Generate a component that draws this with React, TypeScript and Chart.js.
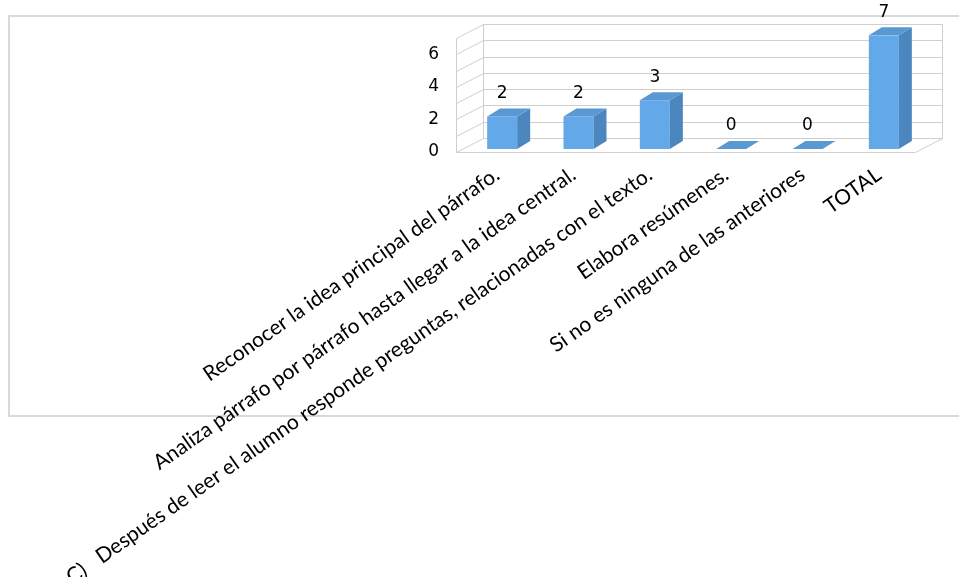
import React, { useEffect, useRef } from 'react';
import { Chart, registerables } from 'chart.js';

Chart.register(...registerables);

const categories = [
  'Reconocer la idea principal del párrafo.',
  'Analiza párrafo por párrafo hasta llegar a la idea central.',
  'C)   Después de leer el alumno responde preguntas, relacionadas con el texto.',
  'Elabora resúmenes.',
  'Si no es ninguna de las anteriores',
  'TOTAL',
];
const values = [2, 2, 3, 0, 0, 7];
const yTickLabels = [0, 2, 4, 6];
const yMax = 7;

const FRONT = '#63A8E8';
const SIDE = '#4B86BE';
const TOP = '#5A98D2';
const GRID = '#CFCFCF';

const threeD = {
  id: 'threeD',
  beforeDraw(chart: any) {
    const ctx = chart.ctx;
    ctx.save();
    ctx.strokeStyle = '#D9D9D9';
    ctx.lineWidth = 2;
    ctx.strokeRect(9, 16, 1000, 400);
    ctx.restore();
  },
  beforeDatasetsDraw(chart: any) {
    const ctx = chart.ctx;
    const { left: L, right: R } = chart.chartArea;
    const ys = chart.scales.y;
    const ddx = 27;
    const ddy = -14;
    const fx0 = Math.round(L - 8) + 0.5;
    const fx1 = Math.round(R - 7) + 0.5;
    const yf = (v: number) => Math.round(ys.getPixelForValue(v) + 3) + 0.5;
    const yb = (v: number) => yf(v) + ddy;
    ctx.save();
    ctx.strokeStyle = GRID;
    ctx.lineWidth = 1;
    ctx.beginPath();
    ys.ticks.forEach((t: any) => {
      const v = t.value;
      ctx.moveTo(fx0 + ddx, yb(v));
      ctx.lineTo(fx1 + ddx, yb(v));
      ctx.moveTo(fx0, yf(v));
      ctx.lineTo(fx0 + ddx, yb(v));
    });
    ctx.moveTo(fx0, yf(0));
    ctx.lineTo(fx0, yf(yMax));
    ctx.moveTo(fx0 + ddx, yb(0));
    ctx.lineTo(fx0 + ddx, yb(yMax));
    ctx.moveTo(fx1 + ddx, yb(0));
    ctx.lineTo(fx1 + ddx, yb(yMax));
    ctx.moveTo(fx0, yf(0));
    ctx.lineTo(fx1, yf(0));
    ctx.lineTo(fx1 + ddx, yb(0));
    ctx.stroke();
    ctx.restore();
  },
  afterDatasetsDraw(chart: any) {
    const ctx = chart.ctx;
    const meta = chart.getDatasetMeta(0);
    const bdx = 13;
    const bdy = -8;
    ctx.save();
    meta.data.forEach((el: any, i: number) => {
      const { x, y, base, width } = el.getProps(['x', 'y', 'base', 'width'], true);
      const l = x - width / 2;
      const r = x + width / 2;
      ctx.fillStyle = SIDE;
      ctx.beginPath();
      ctx.moveTo(r, y);
      ctx.lineTo(r + bdx, y + bdy);
      ctx.lineTo(r + bdx, base + bdy);
      ctx.lineTo(r, base);
      ctx.closePath();
      ctx.fill();
      ctx.fillStyle = TOP;
      ctx.beginPath();
      ctx.moveTo(l, y);
      ctx.lineTo(l + bdx, y + bdy);
      ctx.lineTo(r + bdx, y + bdy);
      ctx.lineTo(r, y);
      ctx.closePath();
      ctx.fill();
      ctx.fillStyle = '#000';
      ctx.font = '17px "DejaVu Sans"';
      ctx.textAlign = 'center';
      ctx.textBaseline = 'middle';
      ctx.fillText(String(values[i]), x, y - 23);
    });
    ctx.restore();
  },
};

export default function App() {
  const ref = useRef<HTMLCanvasElement | null>(null);
  useEffect(() => {
    if (!ref.current) return;
    const chart = new Chart(ref.current, {
      type: 'bar',
      data: {
        labels: categories,
        datasets: [
          {
            data: values,
            backgroundColor: FRONT,
            borderWidth: 0,
            barPercentage: 0.393,
            categoryPercentage: 1,
          },
        ],
      },
      options: {
        animation: false,
        responsive: true,
        maintainAspectRatio: false,
        layout: { padding: { top: 35, right: 37, bottom: 0, left: 0 } },
        plugins: { legend: { display: false }, tooltip: { enabled: false } },
        scales: {
          x: {
            grid: { display: false, drawTicks: false },
            border: { display: false },
            ticks: {
              autoSkip: false,
              minRotation: 35,
              maxRotation: 35,
              padding: 13,
              labelOffset: -5,
              color: '#000',
              font: { family: 'Lato', size: 21 },
            },
            afterFit: (s: any) => {
              s.height = 428;
            },
          },
          y: {
            min: 0,
            max: yMax,
            grid: { display: false, drawTicks: false },
            border: { display: false },
            ticks: {
              stepSize: 1,
              autoSkip: false,
              padding: 25,
              labelOffset: 3,
              color: '#000',
              font: { family: 'DejaVu Sans', size: 17 },
              callback: (v: any) => (yTickLabels.includes(Number(v)) ? String(v) : ''),
            },
            afterFit: (s: any) => {
              s.width = 464;
            },
          },
        },
      },
      plugins: [threeD],
    });
    return () => chart.destroy();
  }, []);
  return (
    <div style={{ position: 'fixed', left: 0, top: 0, width: 959, height: 577 }}>
      <canvas ref={ref} />
    </div>
  );
}
